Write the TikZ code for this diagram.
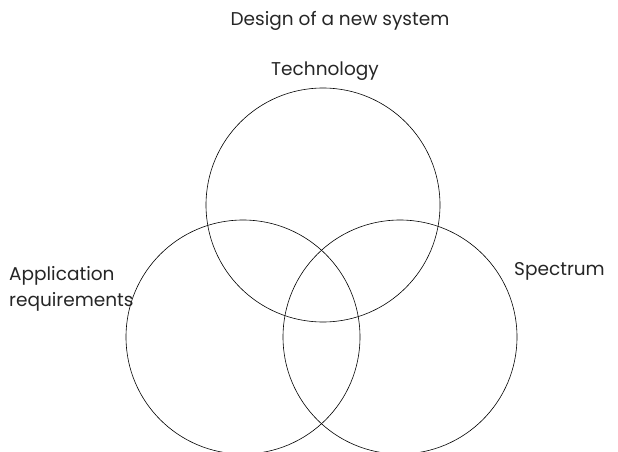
\documentclass[tikz,border=0pt]{standalone}
\usepackage{fontspec}
\setmainfont{Poppins}
\begin{document}
\begin{tikzpicture}[x=1pt,y=1pt,
  lbl/.style={inner sep=0pt,font=\fontsize{18.5}{26}\selectfont,text=black!85},
  ring/.style={draw=black,line width=0.6pt}]
\useasboundingbox (0,0) rectangle (618,451);
\node[ring,circle,minimum size=234pt,inner sep=0pt] (tech) at (323,246) {};
\node[ring,circle,minimum size=234pt,inner sep=0pt] (app) at (243,114) {};
\node[ring,circle,minimum size=234pt,inner sep=0pt] (spec) at (400,114) {};
\node[lbl,anchor=base] (title) at (340,425) {Design of a new system};
\node[lbl,anchor=base] (tlabel) at (325,376) {Technology};
\node[lbl,anchor=base west,align=left] (alabel) at (9,145) {Application\\requirements};
\node[lbl,anchor=base west] (slabel) at (514,176) {Spectrum};
\end{tikzpicture}
\end{document}
